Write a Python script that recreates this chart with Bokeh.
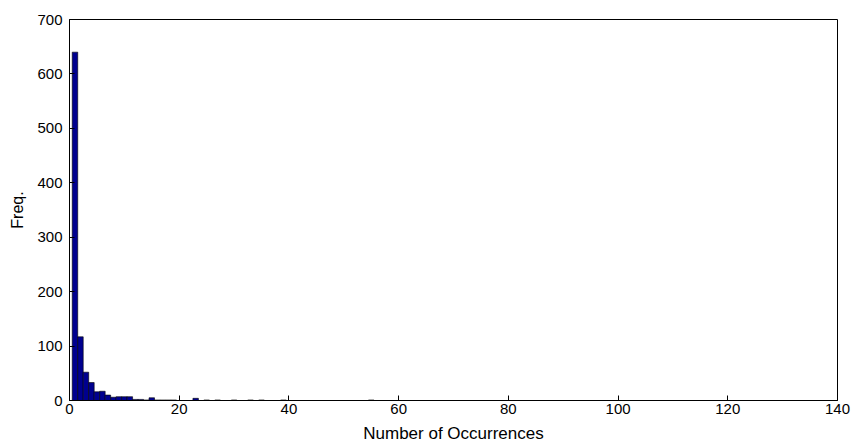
from bokeh.plotting import figure
from bokeh.models import FixedTicker, Range1d
from bokeh.embed import file_html
from bokeh.resources import INLINE

# Data
occurrences = [1, 2, 3, 4, 5, 6, 7, 8, 9, 10, 11, 12, 13, 14, 15, 16, 17, 18, 19,
               23, 25, 27, 30, 33, 35, 39, 55]
frequency = [640, 117, 52, 33, 16, 17, 10, 6, 7, 7, 7, 2, 2, 1, 5, 1, 1, 1, 1,
             4, 1, 1, 1, 1, 1, 1, 1]
x_ticks = [0, 20, 40, 60, 80, 100, 120, 140]
y_ticks = [0, 100, 200, 300, 400, 500, 600, 700]

FONT = "Liberation Sans"

p = figure(width=853, height=445, output_backend="svg", toolbar_location=None,
           x_range=Range1d(0, 140), y_range=Range1d(0, 700),
           min_border_left=69, min_border_right=16, min_border_top=19, min_border_bottom=44)

p.vbar(x=occurrences, top=frequency, width=1.0, bottom=0,
       fill_color="#00008F", line_color="#000000", line_width=0.6)

p.xgrid.grid_line_color = None
p.ygrid.grid_line_color = None
p.outline_line_color = "#000000"
p.outline_line_width = 1
p.background_fill_color = "white"
p.border_fill_color = "white"

p.xaxis.ticker = FixedTicker(ticks=x_ticks)
p.yaxis.ticker = FixedTicker(ticks=y_ticks)
for ax in (p.xaxis, p.yaxis):
    ax.axis_line_color = "#000000"
    ax.major_tick_in = 5
    ax.major_tick_out = 0
    ax.minor_tick_line_color = None
    ax.major_label_text_font = FONT
    ax.major_label_text_font_size = "15px"
    ax.major_label_text_color = "#000000"
    ax.axis_label_text_font = FONT
    ax.axis_label_text_font_style = "normal"
    ax.axis_label_text_color = "#000000"

p.xaxis.axis_label = "Number of Occurrences"
p.xaxis.axis_label_text_font_size = "17px"
p.xaxis.major_label_standoff = 3
p.xaxis.axis_label_standoff = 7

p.yaxis.axis_label = "Freq."
p.yaxis.axis_label_text_font_size = "16px"
p.yaxis.major_label_standoff = 7
p.yaxis.axis_label_standoff = 8

open("out.html", "w").write(file_html(p, INLINE))
